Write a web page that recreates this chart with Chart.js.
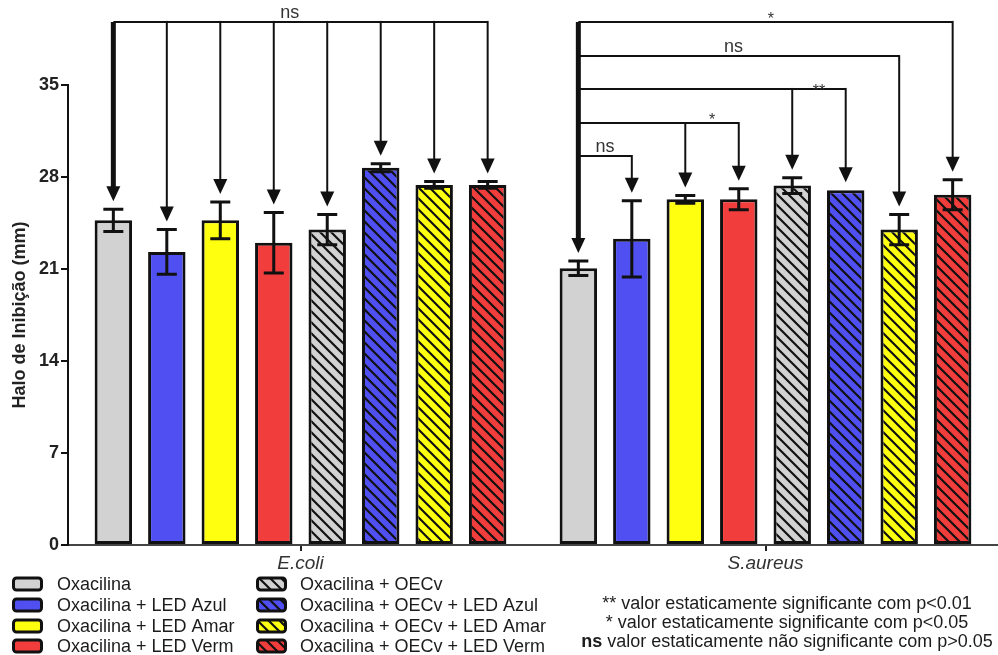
<!DOCTYPE html>
<html>
<head>
<meta charset="utf-8">
<title>Halo de Inibição</title>
<script src="https://cdn.jsdelivr.net/npm/chart.js@4.4.0/dist/chart.umd.min.js"></script>
<style>
  html, body { margin: 0; padding: 0; background: #ffffff; }
  #wrap { width: 998px; height: 655px; position: relative; }
</style>
</head>
<body>
<div id="wrap"><canvas id="c"></canvas></div>
<script>
// ---- data -------------------------------------------------------------
const groups = ['E.coli', 'S.aureus'];

const seriesNames = [
  'Oxacilina',
  'Oxacilina + LED Azul',
  'Oxacilina + LED Amar',
  'Oxacilina + LED Verm',
  'Oxacilina + OECv',
  'Oxacilina + OECv + LED Azul',
  'Oxacilina + OECv + LED Amar',
  'Oxacilina + OECv + LED Verm'
];

// mean halo (mm) per group: [E.coli, S.aureus]
const oxacilina      = [24.7, 21.05];
const ledAzul        = [22.3, 23.3];
const ledAmar        = [24.7, 26.3];
const ledVerm        = [23.0, 26.3];
const oecv           = [24.0, 27.35];
const oecvLedAzul    = [28.7, 27.0];
const oecvLedAmar    = [27.4, 24.0];
const oecvLedVerm    = [27.4, 26.65];

// error (mm) per group: [E.coli, S.aureus]
const oxacilinaErr   = [0.85, 0.55];
const ledAzulErr     = [1.7, 2.9];
const ledAmarErr     = [1.4, 0.3];
const ledVermErr     = [2.3, 0.8];
const oecvErr        = [1.15, 0.6];
const oecvLedAzulErr = [0.3, 0];
const oecvLedAmarErr = [0.25, 1.15];
const oecvLedVermErr = [0.25, 1.15];

const yTicks = [0, 7, 14, 21, 28, 35];

// comparisons against Oxacilina (series 0) inside each group
const comparisonGroup   = [0, 1, 1, 1, 1, 1];
const comparisonLevel   = [39.8, 29.6, 32.1, 34.7, 37.2, 39.8];
const comparisonTargets = [[1, 2, 3, 4, 5, 6, 7], [1], [2, 3], [4, 5], [6], [7]];
const comparisonLabels  = ['ns', 'ns', '*', '**', 'ns', '*'];

const noteLines = [
  ['', '** valor estaticamente significante com p<0.01'],
  ['', '* valor estaticamente significante com p<0.05'],
  ['ns', ' valor estaticamente não significante com p>0.05']
];

// ---- styling ----------------------------------------------------------
const FONT = "'Liberation Sans', Arial, Helvetica, sans-serif";
const INK = '#1c1c1c';
const baseColors = ['#d2d2d2', '#4f4ff2', '#ffff10', '#f23d3d'];

const canvas = document.getElementById('c');
const ctxMain = canvas.getContext('2d');

function hatch(color) {
  const s = 11;
  const c = document.createElement('canvas');
  c.width = s; c.height = s;
  const g = c.getContext('2d');
  g.fillStyle = color;
  g.fillRect(0, 0, s, s);
  g.strokeStyle = '#111';
  g.lineWidth = 2.2;
  g.beginPath();
  g.moveTo(-2, -2); g.lineTo(s + 2, s + 2);
  g.moveTo(-2, s - 2); g.lineTo(2, s + 2);
  g.moveTo(s - 2, -2); g.lineTo(s + 2, 2);
  g.stroke();
  return ctxMain.createPattern(c, 'repeat');
}

const fills = [
  baseColors[0], baseColors[1], baseColors[2], baseColors[3],
  hatch(baseColors[0]), hatch(baseColors[1]), hatch(baseColors[2]), hatch(baseColors[3])
];

const means = [oxacilina, ledAzul, ledAmar, ledVerm, oecv, oecvLedAzul, oecvLedAmar, oecvLedVerm];
const errs  = [oxacilinaErr, ledAzulErr, ledAmarErr, ledVermErr, oecvErr, oecvLedAzulErr, oecvLedAmarErr, oecvLedVermErr];

const datasets = seriesNames.map((name, i) => ({
  label: name,
  data: means[i],
  backgroundColor: fills[i],
  borderColor: '#111',
  borderWidth: 3,
  borderSkipped: false,
  categoryPercentage: 0.92,
  barPercentage: 0.7
}));

// label anchors in bar-slot units (0 = Oxacilina bar)
const labelAnchor = [3.3, 0.5, 2.5, 4.5, 2.9, 3.6];

function barX(chart, series, group) {
  return chart.getDatasetMeta(series).data[group].x;
}

function arrowTip(chart, series, group) {
  const y = chart.scales.y;
  return y.getPixelForValue(means[series][group] + errs[series][group]) - 8;
}

function drawArrow(ctx, x, yTop, yTip, width) {
  const headH = 15, headW = 7;
  ctx.lineWidth = width;
  ctx.beginPath();
  ctx.moveTo(x, yTop);
  ctx.lineTo(x, yTip - headH + 1);
  ctx.stroke();
  ctx.beginPath();
  ctx.moveTo(x - headW, yTip - headH);
  ctx.lineTo(x + headW, yTip - headH);
  ctx.lineTo(x, yTip);
  ctx.closePath();
  ctx.fill();
}

const annotations = {
  id: 'annotations',
  afterDatasetsDraw(chart) {
    const ctx = chart.ctx;
    const y = chart.scales.y;
    ctx.save();
    ctx.strokeStyle = '#111';
    ctx.fillStyle = '#111';
    ctx.lineCap = 'butt';

    // error bars
    means.forEach((m, s) => {
      const meta = chart.getDatasetMeta(s);
      m.forEach((v, g) => {
        const e = errs[s][g];
        if (!e) return;
        const x = meta.data[g].x;
        const hi = y.getPixelForValue(v + e);
        const lo = y.getPixelForValue(v - e);
        ctx.lineWidth = 3;
        ctx.beginPath();
        ctx.moveTo(x, hi); ctx.lineTo(x, lo);
        ctx.moveTo(x - 10, hi); ctx.lineTo(x + 10, hi);
        ctx.moveTo(x - 10, lo); ctx.lineTo(x + 10, lo);
        ctx.stroke();
      });
    });

    // comparison brackets
    groups.forEach((_, g) => {
      const idx = comparisonGroup.map((cg, k) => cg === g ? k : -1).filter(k => k >= 0);
      if (!idx.length) return;
      const topLevel = Math.max(...idx.map(k => comparisonLevel[k]));
      const sx = barX(chart, 0, g);
      drawArrow(ctx, sx, y.getPixelForValue(topLevel), arrowTip(chart, 0, g), 5);

      idx.forEach(k => {
        const ly = y.getPixelForValue(comparisonLevel[k]);
        const targets = comparisonTargets[k];
        const lastX = barX(chart, targets[targets.length - 1], g);
        ctx.lineWidth = 2;
        ctx.lineJoin = 'miter';
        ctx.beginPath();
        ctx.moveTo(sx, ly);
        ctx.lineTo(lastX, ly);
        ctx.stroke();
        targets.forEach(t => {
          drawArrow(ctx, barX(chart, t, g), ly - 1, arrowTip(chart, t, g), 2);
        });

        // significance label
        const a = labelAnchor[k];
        const i0 = Math.floor(a), f = a - i0;
        const lx = barX(chart, i0, g) + f * (barX(chart, i0 + 1, g) - barX(chart, i0, g));
        const txt = comparisonLabels[k];
        ctx.fillStyle = '#333';
        ctx.textAlign = 'center';
        ctx.textBaseline = 'alphabetic';
        if (txt === 'ns') {
          ctx.font = `18px ${FONT}`;
          ctx.fillText(txt, lx, ly - 4);
        } else {
          ctx.font = `16px ${FONT}`;
          ctx.fillText(txt, lx, ly + (txt.length > 1 ? 7 : 2));
        }
        ctx.fillStyle = '#111';
      });
    });
    ctx.restore();
  },

  afterDraw(chart) {
    const ctx = chart.ctx;
    ctx.save();
    // legend: two columns of four
    const rowY = [584, 605, 626, 646];
    const cols = [{ box: 12, text: 57 }, { box: 256, text: 300 }];
    seriesNames.forEach((name, i) => {
      const col = cols[Math.floor(i / 4)];
      const cy = rowY[i % 4];
      ctx.beginPath();
      ctx.roundRect(col.box + 1.5, cy - 6, 28, 12, 3);
      ctx.fillStyle = fills[i];
      ctx.fill();
      ctx.lineWidth = 3;
      ctx.strokeStyle = '#111';
      ctx.stroke();
      ctx.fillStyle = INK;
      ctx.font = `18px ${FONT}`;
      ctx.textAlign = 'left';
      ctx.textBaseline = 'middle';
      ctx.fillText(name, col.text, cy + 1);
    });

    // significance key
    const noteY = [604, 623, 642];
    const centerX = 787;
    noteLines.forEach((parts, i) => {
      ctx.font = `bold 18px ${FONT}`;
      const w0 = parts[0] ? ctx.measureText(parts[0]).width : 0;
      ctx.font = `18px ${FONT}`;
      const w1 = ctx.measureText(parts[1]).width;
      let x = centerX - (w0 + w1) / 2;
      ctx.textAlign = 'left';
      ctx.textBaseline = 'middle';
      ctx.fillStyle = INK;
      if (parts[0]) {
        ctx.font = `bold 18px ${FONT}`;
        ctx.fillText(parts[0], x, noteY[i]);
        x += w0;
      }
      ctx.font = `18px ${FONT}`;
      ctx.fillText(parts[1], x, noteY[i]);
    });
    ctx.restore();
  }
};

new Chart(canvas, {
  type: 'bar',
  data: { labels: groups, datasets },
  options: {
    responsive: true,
    maintainAspectRatio: false,
    animation: false,
    devicePixelRatio: 1,
    layout: { padding: { top: 85, left: 0, right: 0, bottom: 0 } },
    plugins: {
      legend: { display: false },
      tooltip: { enabled: false }
    },
    scales: {
      x: {
        offset: true,
        afterFit(scale) { scale.height = 110; },
        grid: {
          offset: false,
          drawOnChartArea: false,
          drawTicks: true,
          tickLength: 6,
          color: '#222',
          lineWidth: 2
        },
        border: { display: true, color: '#444', width: 2 },
        ticks: {
          padding: 1,
          color: '#333',
          font: { family: FONT, size: 19, style: 'italic' }
        }
      },
      y: {
        min: 0,
        max: 35,
        afterFit(scale) { scale.width = 68; },
        afterBuildTicks(scale) { scale.ticks = yTicks.map(v => ({ value: v })); },
        grid: {
          drawOnChartArea: false,
          drawTicks: true,
          tickLength: 7,
          color: '#111',
          lineWidth: 2
        },
        border: { display: true, color: '#111', width: 2 },
        ticks: {
          padding: 2,
          color: '#222',
          font: { family: FONT, size: 18, weight: 'bold' }
        },
        title: {
          display: true,
          text: 'Halo de Inibição (mm)',
          color: '#222',
          padding: { top: 9, bottom: 0 },
          font: { family: FONT, size: 18, weight: 'bold' }
        }
      }
    }
  },
  plugins: [annotations]
});
</script>
</body>
</html>
